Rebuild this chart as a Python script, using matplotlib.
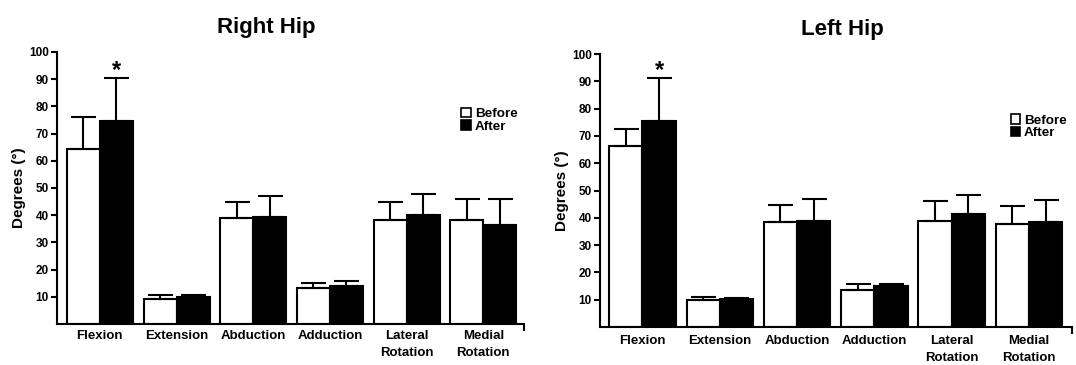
import numpy as np
import matplotlib
matplotlib.use("Agg")
import matplotlib.pyplot as plt
from matplotlib.patches import Patch

plt.rcParams['font.family'] = ['Liberation Sans', 'DejaVu Sans']
plt.rcParams['font.weight'] = 'bold'
plt.rcParams['axes.labelweight'] = 'bold'

# data
movements = ['Flexion', 'Extension', 'Abduction', 'Adduction',
             'Lateral\nRotation', 'Medial\nRotation']

right_before = [64.4, 9.3, 39.1, 13.1, 38.1, 38.1]
right_before_sd = [11.8, 1.5, 5.6, 2.0, 6.6, 7.9]
right_after = [74.7, 10.0, 39.5, 14.0, 40.2, 36.4]
right_after_sd = [15.6, 0.8, 7.5, 1.9, 7.6, 9.6]

left_before = [66.4, 9.8, 38.6, 13.7, 38.7, 37.6]
left_before_sd = [6.1, 1.2, 6.0, 2.0, 7.3, 6.7]
left_after = [75.6, 10.3, 38.9, 15.0, 41.4, 38.6]
left_after_sd = [15.5, 0.4, 8.0, 0.7, 6.8, 7.9]

fig = plt.figure(figsize=(10.76, 3.65), dpi=100)
ax_r = fig.add_axes([0.053, 0.112, 0.434, 0.746])
ax_l = fig.add_axes([0.5576, 0.104, 0.4387, 0.748])

w = 0.43
x = np.arange(len(movements))


def draw_panel(ax, before, before_sd, after, after_sd, xlim, xpad):
    err_kw = dict(elinewidth=1.5, capsize=9, capthick=1.5, ecolor='black')
    ax.bar(x - w / 2, before, w, color='white', edgecolor='black', linewidth=1.5,
           yerr=[np.zeros(len(before)), before_sd], error_kw=err_kw, label='Before')
    ax.bar(x + w / 2, after, w, color='black', edgecolor='black', linewidth=1.5,
           yerr=[np.zeros(len(after)), after_sd], error_kw=err_kw, label='After')
    ax.set_ylim(0, 100)
    ax.set_xlim(*xlim)
    ax.set_yticks(np.arange(10, 101, 10))
    ax.tick_params(axis='y', direction='out', length=4, width=1.5, labelsize=8.5, pad=2)
    ax.set_xticks(x)
    ax.set_xticklabels(movements, fontsize=9.5, linespacing=1.55)
    ax.tick_params(axis='x', which='major', length=0, pad=xpad)
    # little end tick on the x axis
    ax.set_xticks([xlim[1] - 0.005], minor=True)
    ax.tick_params(axis='x', which='minor', direction='out', length=5, width=1.5)
    for s in ['top', 'right']:
        ax.spines[s].set_visible(False)
    for s in ['left', 'bottom']:
        ax.spines[s].set_linewidth(1.5)
    ax.set_ylabel('Degrees (°)', fontsize=11, labelpad=2)
    # significance mark
    ax.text(x[0] + w / 2, after[0] + after_sd[0] - 1.5, '*', ha='center', va='bottom',
            fontsize=17, fontweight='bold')
    handles = [Patch(facecolor='white', edgecolor='black', linewidth=1.2),
               Patch(facecolor='black', edgecolor='black', linewidth=1.2)]
    ax.legend(handles, ['Before', 'After'], loc='upper left', frameon=False,
              fontsize=9.7, handlelength=0.7, handleheight=0.7, handletextpad=0.3,
              labelspacing=0.0, borderpad=0, borderaxespad=0)


draw_panel(ax_r, right_before, right_before_sd, right_after, right_after_sd,
           (-0.558, 5.53), 4)
ax_r.get_legend().set_bbox_to_anchor((0.866, 0.795), transform=ax_r.transAxes)
draw_panel(ax_l, left_before, left_before_sd, left_after, left_after_sd,
           (-0.55, 5.556), 6)
ax_l.get_legend().set_bbox_to_anchor((0.87, 0.78), transform=ax_l.transAxes)

fig.text(0.247, 0.925, 'Right Hip', ha='center', va='center', fontsize=16, fontweight='bold')
fig.text(0.783, 0.918, 'Left Hip', ha='center', va='center', fontsize=16, fontweight='bold')

fig.savefig('out.png', dpi=100)
